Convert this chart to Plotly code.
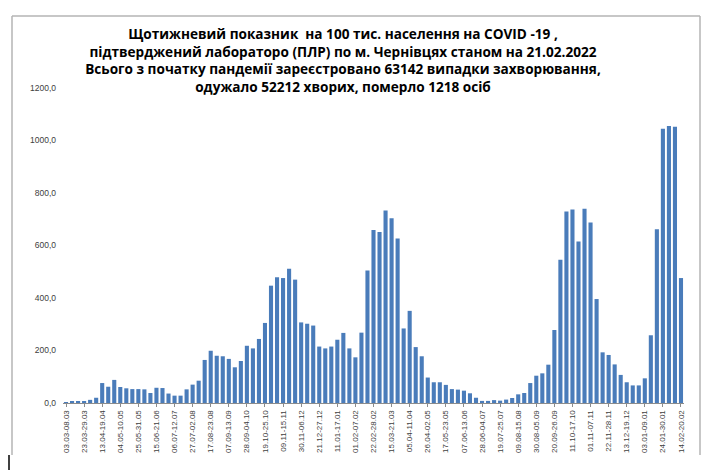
import pandas as pd
import plotly.graph_objects as go

# тижні: перший неповний 03.03-08.03.2020, далі пн-нд до 14.02-20.02.2022
first_week = ("2020-03-03", "2020-03-08")
week_starts = pd.date_range("2020-03-09", "2022-02-14", freq="7D")

week_labels = [pd.Timestamp(first_week[0]).strftime("%d.%m") + "-" + pd.Timestamp(first_week[1]).strftime("%d.%m")]
for d in week_starts:
    week_labels.append(d.strftime("%d.%m") + "-" + (d + pd.Timedelta(days=6)).strftime("%d.%m"))

# показник на 100 тис. населення
rate_2020 = [3, 4, 5, 6, 12, 20,
             76, 62, 88, 61, 56, 53, 53, 52, 38, 58, 57, 36, 28, 28, 52, 70, 85, 164, 199,
             180, 178, 168, 136, 160, 218, 208, 244, 305, 447, 479, 476, 511, 470, 307, 302, 295, 215]
rate_2021 = [208, 215, 241, 267, 208, 174,
             268, 505, 659, 651, 733, 704, 627, 284, 351, 213, 178, 97, 79, 79, 69, 53, 51,
             47, 37, 20, 8, 8, 11, 9, 13, 19, 33, 38, 76, 104, 113, 146, 278, 546, 730,
             737, 615, 740, 688, 396, 193, 183, 147, 107, 79, 67, 67]
rate_2022 = [94, 258, 662, 1045, 1055, 1052, 476]
rate = rate_2020 + rate_2021 + rate_2022

tick_labels = week_labels[::3]
y_ticks = [0, 200, 400, 600, 800, 1000, 1200]

title_lines = [
    "Щотижневий показник  на 100 тис. населення на COVID -19 ,",
    "підтверджений лабораторо (ПЛР) по м. Чернівцях станом на 21.02.2022",
    "Всього з початку пандемії зареєстровано 63142 випадки захворювання,",
    "одужало 52212 хворих, померло 1218 осіб",
]

# сторінка має відступ 8px, тому все рахуємо від зміщеного кута
OFF = 8
W, H = 718 - OFF, 474 - OFF
L, R, T, B = 63 - OFF, 34, 88 - OFF, 71


def px_x(px):
    return (px - OFF - L) / (W - L - R)


def px_y(py):
    return ((H - (py - OFF)) - B) / (H - T - B)


fig = go.Figure(go.Bar(
    x=week_labels,
    y=rate,
    marker=dict(color="#4A7CBA", line=dict(width=0)),
))

frame = [
    (12, 16, 700, 16, "#B4B4B4"),
    (12, 16, 12, 455, "#B4B4B4"),
    (700, 16, 700, 455, "#B4B4B4"),
    (9, 455, 9, 470, "#000000"),
]
shapes = []
for x0, y0, x1, y1, c in frame:
    shapes.append(dict(type="line", xref="paper", yref="paper",
                       x0=px_x(x0), y0=px_y(y0), x1=px_x(x1), y1=px_y(y1),
                       line=dict(color=c, width=1.5)))

fig.update_layout(
    width=W, height=H,
    margin=dict(l=L, r=R, t=T, b=B),
    paper_bgcolor="white",
    plot_bgcolor="white",
    separators=", ",
    bargap=0.32,
    showlegend=False,
    shapes=shapes,
    title=dict(
        text="<br>".join(title_lines),
        font=dict(family="Open Sans", size=13.6, color="black", weight="bold"),
        x=(343 - OFF) / W, xanchor="center", xref="container",
        y=1 - 31 / H, yanchor="top", yref="container",
    ),
)
fig.update_xaxes(
    type="category",
    tickvals=tick_labels,
    ticktext=tick_labels,
    tickangle=-90,
    tickfont=dict(family="Liberation Sans", size=8, color="#404040"),
    showline=True, linecolor="#8C8C8C", linewidth=1,
    ticks="outside", ticklen=3, tickcolor="#8C8C8C",
    showgrid=False,
)
fig.update_yaxes(
    range=[0, 1200],
    tickvals=y_ticks,
    tickformat=".1f",
    tickfont=dict(family="Liberation Sans", size=8.5, color="#404040"),
    showgrid=False, showline=False, zeroline=False,
    ticks="", ticklabelstandoff=6,
)

fig.write_html("out.html")
